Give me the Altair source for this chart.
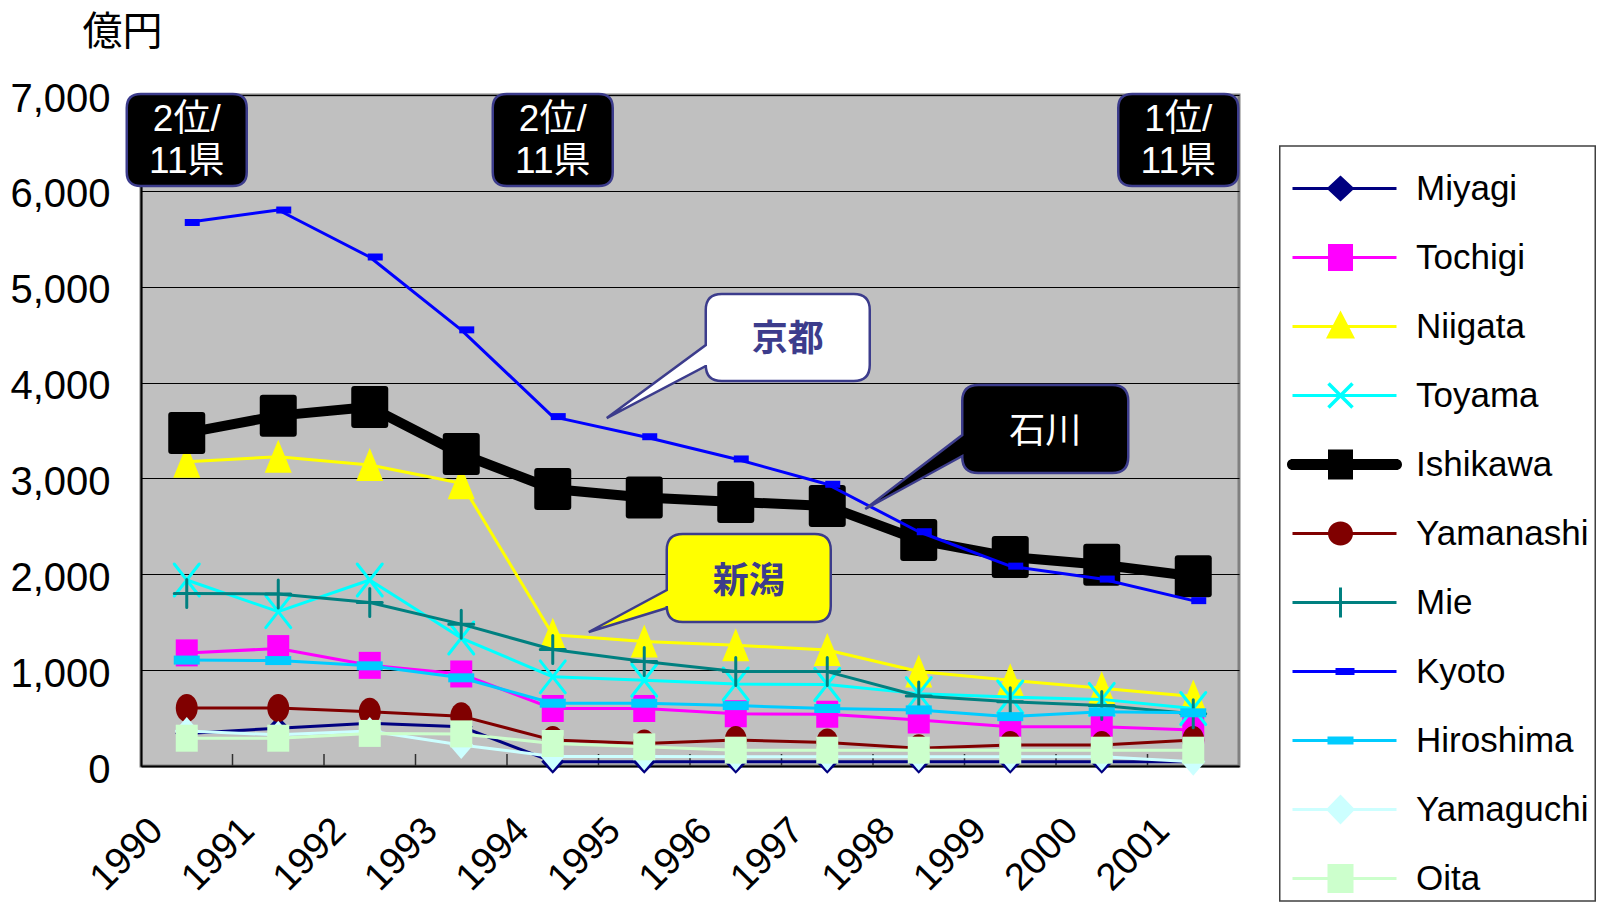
import math
import altair as alt
import pandas as pd

# ---------------- data ----------------
years = [str(y) for y in range(1990, 2002)]
series = ["Miyagi", "Tochigi", "Niigata", "Toyama", "Ishikawa", "Yamanashi",
          "Mie", "Kyoto", "Hiroshima", "Yamaguchi", "Oita"]
colors = ["#000080", "#FF00FF", "#FFFF00", "#00FFFF", "#000000", "#800000",
          "#008080", "#0000FF", "#00CCFF", "#CCFFFF", "#CCFFCC"]

miyagi = [340, 395, 445, 410, 45, 45, 45, 45, 45, 45, 45, 45]
tochigi = [1180, 1225, 1050, 960, 600, 600, 545, 540, 480, 410, 410, 375]
niigata = [3175, 3227, 3140, 2950, 1370, 1300, 1260, 1210, 985, 895, 810, 725]
toyama = [1940, 1610, 1940, 1335, 930, 895, 855, 850, 755, 720, 695, 600]
ishikawa = [3475, 3655, 3745, 3255, 2890, 2800, 2755, 2712, 2358, 2180, 2100, 1980]
yamanashi = [605, 605, 565, 520, 270, 235, 270, 245, 185, 220, 220, 270]
mie = [1800, 1795, 1705, 1480, 1215, 1090, 985, 985, 730, 670, 630, 545]
kyoto = [5670, 5800, 5310, 4550, 3645, 3435, 3203, 2939, 2444, 2085, 1950, 1725]
hiroshima = [1105, 1100, 1045, 920, 655, 655, 630, 600, 585, 515, 565, 555]
yamaguchi = [365, 325, 365, 220, 100, 100, 97, 97, 97, 97, 97, 45]
oita = [290, 290, 340, 335, 235, 200, 165, 165, 165, 165, 165, 165]

values = [miyagi, tochigi, niigata, toyama, ishikawa, yamanashi,
          mie, kyoto, hiroshima, yamaguchi, oita]

rank_years = ["1990", "1994"]
rank_line1 = ["2位/", "2位/"]
rank_last_year = ["2001"]
rank_last_line1 = ["1位/"]
rank_line2 = "11県"
rank_anchor = 6530

callout_labels = ["京都", "石川", "新潟"]
callout_years = ["1994", "1997", "1994"]
callout_anchor = [3630, 2681, 1398]

# ---------------- tables ----------------
rows = []
for s, vals in zip(series, values):
    for yr, v in zip(years, vals):
        rows.append({"series": s, "year": yr, "value": v})
df = pd.DataFrame(rows)

rank_df = pd.DataFrame({"year": rank_years, "value": [rank_anchor] * len(rank_years),
                        "l1": rank_line1, "l2": [rank_line2] * len(rank_years)})
rank_last_df = pd.DataFrame({"year": rank_last_year, "value": [rank_anchor],
                             "l1": rank_last_line1, "l2": [rank_line2]})
tick_df = pd.DataFrame({"year": years[1:]})
legend_box_df = pd.DataFrame({"year": [years[-1]], "value": [7000]})

# ---------------- styling ----------------
W, H = 1098, 671
SANS = "Liberation Sans, Arial, sans-serif"
CJK = "Noto Sans CJK JP"
NAVY = "#3c3c8c"


def f(v):
    return ("%.2f" % v).rstrip("0").rstrip(".")


def rect(x0, y0, x1, y1):
    return f"M{f(x0)},{f(y0)}L{f(x1)},{f(y0)}L{f(x1)},{f(y1)}L{f(x0)},{f(y1)}Z"


def diamond(hw, hh):
    return f"M0,{f(-hh)}L{f(hw)},0L0,{f(hh)}L{f(-hw)},0Z"


def tri(hw, top, bot):
    return f"M0,{f(top)}L{f(hw)},{f(bot)}L{f(-hw)},{f(bot)}Z"


def ellipse(rx, ry):
    return (f"M{f(-rx)},0A{f(rx)},{f(ry)} 0 1,1 {f(rx)},0"
            f"A{f(rx)},{f(ry)} 0 1,1 {f(-rx)},0Z")


def seg(x1, y1, x2, y2, t):
    dx, dy = x2 - x1, y2 - y1
    L = math.hypot(dx, dy)
    nx, ny = dy / L * t / 2, -dx / L * t / 2
    return (f"M{f(x1+nx)},{f(y1+ny)}L{f(x2+nx)},{f(y2+ny)}"
            f"L{f(x2-nx)},{f(y2-ny)}L{f(x1-nx)},{f(y1-ny)}Z")


def rrect(x0, y0, x1, y1, r, ptr=None):
    p = (f"M{x0+r},{y0}H{x1-r}Q{x1},{y0} {x1},{y0+r}V{y1-r}Q{x1},{y1} {x1-r},{y1}"
         f"H{x0+r}Q{x0},{y1} {x0},{y1-r}")
    if ptr:
        bt, bb, tx, ty = ptr
        p += f"V{bb}L{tx},{ty}L{x0},{bt}"
    p += f"V{y0+r}Q{x0},{y0} {x0+r},{y0}Z"
    return p


# chart markers: (path, filled)
marker = {
    "Miyagi": (diamond(11.5, 12), True),
    "Tochigi": (rect(-11, -13.5, 11, 13.5), True),
    "Niigata": (tri(13.5, -17, 16), True),
    "Toyama": ("M-12.5,-16L12.5,16M-12.5,16L12.5,-16", False),
    "Ishikawa": (rrect(-18.5, -21, 18.5, 21, 3), True),
    "Yamanashi": (ellipse(11, 14), True),
    "Mie": ("M-12.5,0L12.5,0M0,-14L0,14", False),
    "Kyoto": (rect(-2, -3.5, 13, 3.5), True),
    "Hiroshima": (rect(-13, -4.5, 13, 4.5), True),
    "Yamaguchi": (diamond(12, 14), True),
    "Oita": (rect(-11, -13.5, 11, 13.5), True),
}

# legend symbols: line + marker as filled paths
LX0, LX1 = -48, 56


def legline(t):
    return rect(LX0, -t / 2, LX1, t / 2)


leg_paths = [
    legline(3) + diamond(14, 13),
    legline(3) + rect(-12.5, -13.5, 12.5, 13.5),
    legline(3) + tri(14.5, -16, 12),
    legline(3) + seg(-12, -12, 12, 12, 3.5) + seg(-12, 12, 12, -12, 3.5),
    (f"M{LX0},-5.5H{LX1}A5.5,5.5 0 0,1 {LX1},5.5H{LX0}A5.5,5.5 0 0,1 {LX0},-5.5Z"
     + rect(-12.5, -15, 12.5, 15)),
    legline(3) + ellipse(12.5, 12),
    legline(3) + seg(0, -15, 0, 15, 3),
    legline(3) + rect(-5, -3.5, 14, 3.5),
    legline(3) + rect(-13, -4, 13, 4),
    legline(3) + diamond(14.5, 15),
    legline(3) + rect(-13, -14.5, 13, 14.5),
]

xscale = alt.Scale(type="band", domain=years, paddingInner=0, paddingOuter=0)
yscale = alt.Scale(domain=[0, 7000], nice=False, zero=True)

x_axis = alt.Axis(title=None, labelAngle=-45, labelAlign="right", labelBaseline="top",
                  labelOffset=-43, labelPadding=45, ticks=False, grid=False,
                  domainColor="#000000", domainWidth=2, labelFont=SANS,
                  labelFontSize=38, labelColor="#000000")
y_axis = alt.Axis(title="億円", titleAngle=0, titleAlign="left", titleBaseline="top",
                  titleX=-59, titleY=-83, titleFont=CJK, titleFontSize=40,
                  titleFontWeight="normal", titleColor="#000000",
                  values=list(range(0, 7001, 1000)), format=",d", ticks=False,
                  labelPadding=31, labelFont=SANS, labelFontSize=40,
                  labelColor="#000000", labelOffset=4,
                  grid=True, gridColor="#000000", gridWidth=1,
                  domainColor="#000000", domainWidth=2)

xenc = alt.X("year:O", scale=xscale, axis=x_axis)
yenc = alt.Y("value:Q", scale=yscale, axis=y_axis)

layers = []

# inward tick marks at category boundaries
layers.append(
    alt.Chart(tick_df).mark_rule(color="#303030", strokeWidth=1.5).encode(
        x=alt.X("year:O", scale=xscale, axis=x_axis, bandPosition=0),
        y=alt.value(H), y2=alt.value(H - 12))
)

# legend frame (drawn beneath the legend entries)
layers.append(
    alt.Chart(legend_box_df).mark_point(shape=rect(86.5, 51, 402, 806), size=4, filled=True,
                                        fill="#FFFFFF", stroke="#404040", strokeWidth=1.5,
                                        opacity=1)
    .encode(x=xenc, y=yenc)
)

for s, c in zip(series, colors):
    sub = alt.Chart(df).transform_filter(alt.datum.series == s)
    lw = 10 if s == "Ishikawa" else 3
    layers.append(sub.mark_line(color=c, strokeWidth=lw, strokeJoin="round",
                                strokeCap="round").encode(x=xenc, y=yenc))
    shp, filled = marker[s]
    if filled:
        m = sub.mark_point(shape=shp, size=4, filled=True, fill=c, strokeWidth=0, opacity=1)
    else:
        m = sub.mark_point(shape=shp, size=4, filled=False, stroke=c, strokeWidth=3,
                           opacity=1, strokeCap="round")
    layers.append(m.encode(x=xenc, y=yenc))

# legend (driven by scales; no visible marks)
leg = alt.Legend(title=" ", titleFontSize=10, titlePadding=9, orient="none",
                 legendX=1138, legendY=51, padding=6,
                 rowPadding=33, symbolSize=4, symbolStrokeWidth=0, symbolOffset=38,
                 labelOffset=58, labelFont=SANS, labelFontSize=35, labelLimit=400,
                 labelColor="#000000", symbolOpacity=1)
layers.append(
    alt.Chart(df).transform_filter("datum.value < -1")
    .mark_point(filled=True, size=4, opacity=1)
    .encode(x=xenc, y=yenc,
            fill=alt.Fill("series:N", scale=alt.Scale(domain=series, range=colors), legend=leg),
            shape=alt.Shape("series:N", scale=alt.Scale(domain=series, range=leg_paths), legend=leg))
)

# rank boxes
box = rrect(-60, -46, 60, 46, 14)
rank_font = f"Liberation Sans, {CJK}"
for d, xo in ((rank_df, 0), (rank_last_df, -15)):
    layers.append(alt.Chart(d).mark_point(shape=box, size=4, filled=True, fill="#000000",
                                          stroke=NAVY, strokeWidth=2.5, opacity=1, xOffset=xo)
                  .encode(x=xenc, y=yenc))
    for col, dy in (("l1", -20), ("l2", 22)):
        layers.append(alt.Chart(d).mark_text(font=rank_font, fontSize=37, color="#FFFFFF",
                                             align="center", baseline="middle", dy=dy,
                                             xOffset=xo)
                      .encode(x=xenc, y=yenc, text=f"{col}:N"))

# callouts
callout_shapes = [
    rrect(153, -124, 317, -37, 16, (-73, -52, 54, 0)),
    rrect(135, -124, 301, -36, 16, (-74, -53, 38, 0)),
    rrect(114, -98, 278, -10, 16, (-42, -24, 36, 0)),
]
callout_fill = ["#FFFFFF", "#000000", "#FFFF00"]
callout_text_color = [NAVY, "#FFFFFF", NAVY]
callout_weight = ["bold", "normal", "bold"]
callout_dx = [235, 218, 196]
callout_dy = [-78, -77, -50]
for i in range(3):
    d = pd.DataFrame({"year": [callout_years[i]], "value": [callout_anchor[i]],
                      "label": [callout_labels[i]]})
    layers.append(alt.Chart(d).mark_point(shape=callout_shapes[i], size=4, filled=True,
                                          fill=callout_fill[i], stroke=NAVY, strokeWidth=2.5,
                                          opacity=1)
                  .encode(x=xenc, y=yenc))
    layers.append(alt.Chart(d).mark_text(font=CJK, fontSize=36, fontWeight=callout_weight[i],
                                         color=callout_text_color[i], align="center",
                                         baseline="middle", dx=callout_dx[i], dy=callout_dy[i])
                  .encode(x=xenc, y=yenc, text="label:N"))

chart = (
    alt.layer(*layers)
    .properties(width=W, height=H, autosize=alt.AutoSizeParams(type="none"),
                padding={"left": 133, "top": 87, "right": 358, "bottom": 136},
                background="#FFFFFF")
    .configure_view(fill="#C0C0C0", stroke="#808080", strokeWidth=3)
)

chart.save("out.html", embed_options={"renderer": "svg", "actions": False})
